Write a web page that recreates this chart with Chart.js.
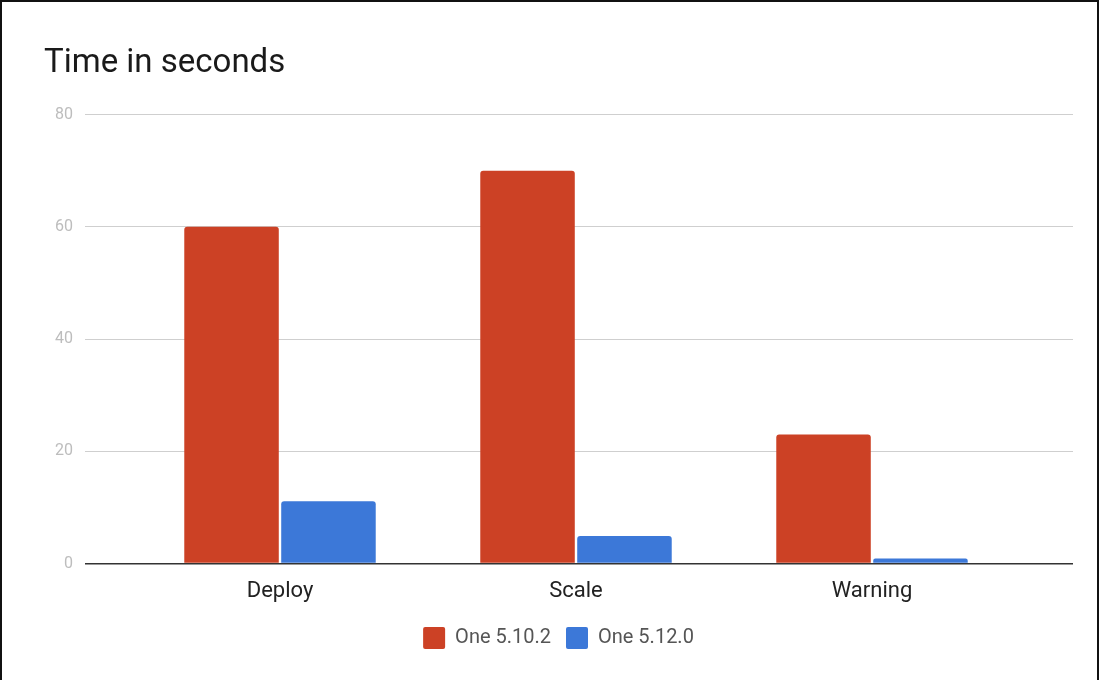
<!DOCTYPE html>
<html lang="en">
<head>
<meta charset="UTF-8">
<title>Time in seconds</title>
<script src="https://cdn.jsdelivr.net/npm/chart.js@4.4.1/dist/chart.umd.min.js"></script>
<style>
  html, body { margin: 0; padding: 0; background: #fff; }
  .wrap { position: relative; width: 1099px; height: 680px; overflow: hidden; }
  .frame { position: absolute; left: 0; top: 0; width: 1099px; height: 690px; box-sizing: border-box; border: 2px solid #111; pointer-events: none; }
  canvas { position: absolute; left: 0; top: 0; }
</style>
</head>
<body>
<div class="wrap">
  <canvas id="chart" width="1099" height="680"></canvas>
  <div class="frame"></div>
</div>
<script>
const categories = ['Deploy', 'Scale', 'Warning'];
const seriesNames = ['One 5.10.2', 'One 5.12.0'];
const oldVersion = [60, 70, 23];
const newVersion = [11.1, 4.9, 0.9];
const yTicks = [0, 20, 40, 60, 80];

const RED = '#cc4125';
const BLUE = '#3c78d8';
const FONT = 'Roboto, "Noto Sans", sans-serif';

// gridline colour, darker for the baseline
const lineColor = c => c.tick && c.tick.value === 0 ? '#333' : '#cfcfcf';
const lineWidth = c => c.tick && c.tick.value === 0 ? 1.5 : 1;

new Chart(document.getElementById('chart'), {
  type: 'bar',
  data: {
    labels: categories,
    datasets: [
      { label: seriesNames[0], data: oldVersion, backgroundColor: RED, borderRadius: { topLeft: 3, topRight: 3 }, borderSkipped: 'bottom' },
      { label: seriesNames[1], data: newVersion, backgroundColor: BLUE, borderRadius: { topLeft: 3, topRight: 3 }, borderSkipped: 'bottom' }
    ]
  },
  options: {
    responsive: false,
    animation: false,
    layout: { padding: { top: 44, left: 44, right: 26, bottom: 21 } },
    datasets: { bar: { categoryPercentage: 0.655, barPercentage: 0.975 } },
    plugins: {
      title: {
        display: true,
        text: 'Time in seconds',
        align: 'start',
        color: '#1a1a1a',
        font: { family: FONT, size: 33, weight: 'normal' },
        padding: { top: 0, bottom: 31 }
      },
      legend: {
        position: 'bottom',
        labels: {
          boxWidth: 22, boxHeight: 22, padding: 15,
          color: '#555',
          font: { family: FONT, size: 20 },
          generateLabels: chart => chart.data.datasets.map((ds, i) => ({
            text: ds.label, fillStyle: ds.backgroundColor, strokeStyle: ds.backgroundColor,
            lineWidth: 0, fontColor: '#555', datasetIndex: i, borderRadius: 2
          }))
        }
      },
      tooltip: { enabled: false }
    },
    scales: {
      x: {
        grid: { display: false },
        border: { display: false },
        ticks: { color: '#222', font: { family: FONT, size: 22 }, padding: 7 }
      },
      y: {
        min: 0, max: 80,
        afterFit: s => { s.width = 88; },
        afterBuildTicks: s => { s.ticks = yTicks.map(v => ({ value: v })); },
        border: { display: false },
        grid: { drawTicks: true, tickLength: 47, color: lineColor, lineWidth: lineWidth },
        ticks: { color: '#bdbdbd', font: { family: FONT, size: 16 }, padding: 12 }
      },
      y2: {
        position: 'right',
        min: 0, max: 80,
        afterFit: s => { s.width = 53; },
        afterBuildTicks: s => { s.ticks = yTicks.map(v => ({ value: v })); },
        border: { display: false },
        grid: { drawOnChartArea: false, drawTicks: true, tickLength: 53, color: lineColor, lineWidth: lineWidth },
        ticks: { display: false }
      }
    }
  }
});
</script>
</body>
</html>
